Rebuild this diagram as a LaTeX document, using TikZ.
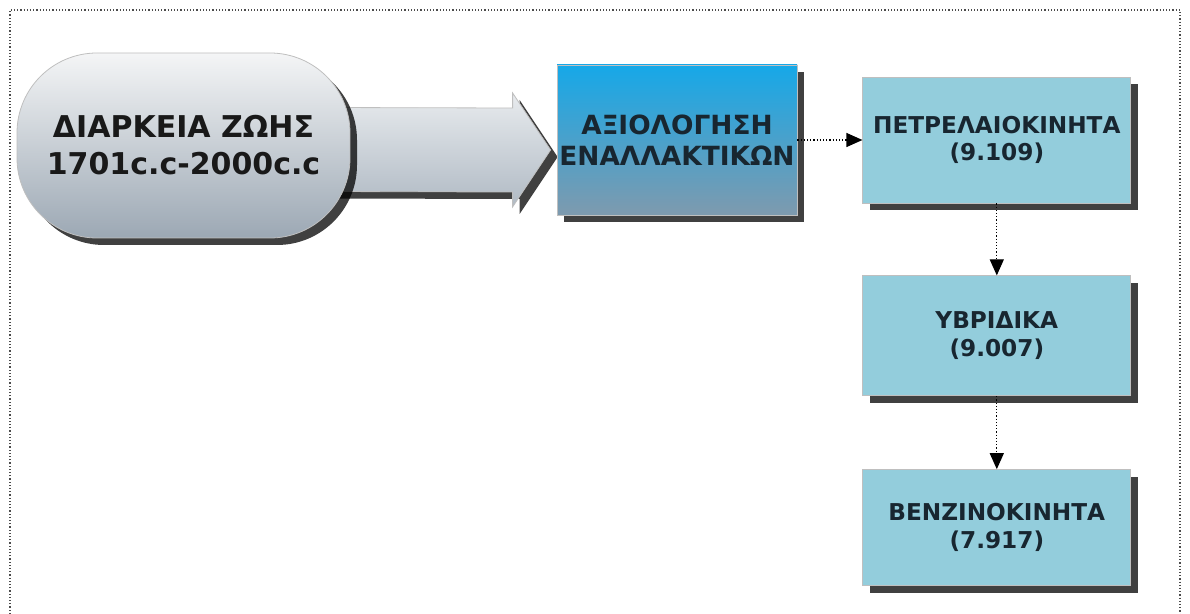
\documentclass[tikz,border=0pt]{standalone}
\usepackage{fontspec}
\setmainfont{DejaVu Sans}
\usepackage{xcolor}
\usepackage{tikz}
\usetikzlibrary{positioning, arrows.meta, shadows, calc, backgrounds}
\definecolor{lifetop}{RGB}{244,245,246}
\definecolor{lifebot}{RGB}{156,168,180}
\definecolor{evaltop}{RGB}{22,168,232}
\definecolor{evalbot}{RGB}{126,154,174}
\definecolor{altfill}{RGB}{147,205,220}
\definecolor{arrowtop}{RGB}{232,235,238}
\definecolor{arrowbot}{RGB}{176,186,196}
\definecolor{txtdark}{RGB}{24,38,48}

\begin{document}
\begin{tikzpicture}[
  x=0.5pt, y=-0.5pt,
  node distance=36pt and 32.5pt,
  shade/.style={drop shadow={shadow xshift=3.5pt, shadow yshift=-3.5pt, fill=black, opacity=0.75}},
  life/.style={shade, draw=black!25, rounded corners=40pt, top color=lifetop, bottom color=lifebot,
    minimum width=166.5pt, minimum height=92.5pt, align=center, text=black!90,
    font=\bfseries\fontsize{15}{18.5}\selectfont},
  evalbox/.style={shade, draw=black!25, top color=evaltop, bottom color=evalbot,
    minimum width=120pt, minimum height=75pt, align=center, text=txtdark, inner sep=1pt,
    font=\bfseries\fontsize{13.2}{15.5}\selectfont},
  alt/.style={shade, draw=black!25, fill=altfill, minimum width=134pt, minimum height=60pt,
    align=center, text=txtdark, font=\bfseries\fontsize{11.6}{13.8}\selectfont},
  link/.style={densely dotted, line width=0.6pt, -{Triangle[length=8pt, width=7pt]}},
  bigarrow/.style={shade, draw=black!25, top color=arrowtop, bottom color=arrowbot},
]
\useasboundingbox (0,0) rectangle (1190,614);
% frame
\draw[densely dotted, line width=0.6pt, black!70] (10,614) -- (10,10) -- (1180,10) -- (1180,614);

\node[life] (life) at (183.5,145.5) {ΔΙΑΡΚΕΙΑ ΖΩΗΣ\\1701c.c-2000c.c};
\node[evalbox] (eval) at (677,140) {ΑΞΙΟΛΟΓΗΣΗ\\ΕΝΑΛΛΑΚΤΙΚΩΝ};
\node[alt, minimum height=63pt, right=of eval] (diesel) {ΠΕΤΡΕΛΑΙΟΚΙΝΗΤΑ\\(9.109)};
\node[alt, below=of diesel] (hybrid) {ΥΒΡΙΔΙΚΑ\\(9.007)};
\node[alt, minimum height=58pt, below=36.5pt of hybrid] (petrol) {ΒΕΝΖΙΝΟΚΙΝΗΤΑ\\(7.917)};

\begin{pgfonlayer}{background}
\path[bigarrow] ($(life.east)+(-30,-38)$) -- ($(eval.west)+(-44,-32)$) -- ($(eval.west)+(-44,-47)$)
  -- ($(eval.west)+(-6,10)$) -- ($(eval.west)+(-44,67)$) -- ($(eval.west)+(-44,52)$)
  -- ($(life.east)+(-30,46)$) -- cycle;
\end{pgfonlayer}

\draw[link] (eval) -- (diesel);
\draw[link] (diesel) -- (hybrid);
\draw[link] (hybrid) -- (petrol);
\end{tikzpicture}
\end{document}
